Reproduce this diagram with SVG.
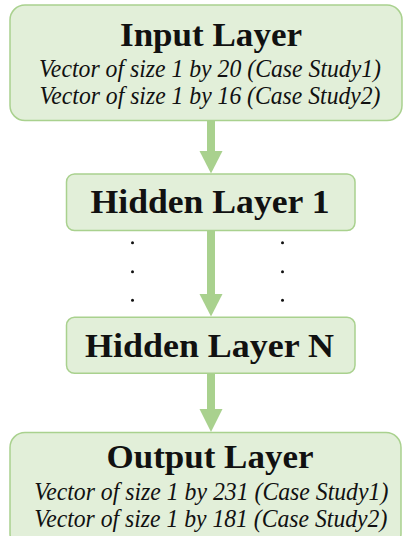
<svg xmlns="http://www.w3.org/2000/svg" width="406" height="536" viewBox="0 0 406 536">
  <style>
    .box { fill: #e2efd9; stroke: #a9d18e; stroke-width: 1.5; }
    .title { font-family: "Liberation Serif", "Times New Roman", serif; font-weight: bold; font-size: 34px; fill: #111; text-anchor: middle; }
    .sub { font-family: "Liberation Serif", "Times New Roman", serif; font-style: italic; font-size: 24.5px; fill: #111; text-anchor: middle; }
    .shaft { stroke: #a9d18e; stroke-width: 8; fill: none; }
    .head { fill: #a9d18e; }
    .dot { fill: #111; }
  </style>
  <rect width="406" height="536" fill="#ffffff"/>

  <g id="connectors">
    <line class="shaft" x1="211" y1="121" x2="211" y2="152"/>
    <polygon class="head" points="199.5,151 222.5,151 211,173.5"/>
    <line class="shaft" x1="211" y1="231" x2="211" y2="295"/>
    <polygon class="head" points="199.5,294 222.5,294 211,316.5"/>
    <line class="shaft" x1="211" y1="373.5" x2="211" y2="410"/>
    <polygon class="head" points="199.5,409 222.5,409 211,432"/>
  </g>

  <g id="input-layer">
    <rect class="box" x="10" y="5" width="392" height="115.5" rx="15"/>
    <text class="title" x="211" y="46" textLength="182" lengthAdjust="spacingAndGlyphs">Input Layer</text>
    <text class="sub" x="210" y="77" textLength="342" lengthAdjust="spacingAndGlyphs">Vector of size 1 by 20 (Case Study1)</text>
    <text class="sub" x="210" y="104" textLength="341" lengthAdjust="spacingAndGlyphs">Vector of size 1 by 16 (Case Study2)</text>
  </g>

  <g id="hidden-layer-1">
    <rect class="box" x="66.5" y="174" width="288.5" height="56.5" rx="8"/>
    <text class="title" x="210" y="213" textLength="239" lengthAdjust="spacingAndGlyphs">Hidden Layer 1</text>
  </g>

  <g id="ellipsis">
    <circle class="dot" cx="132.5" cy="242.7" r="1.5"/>
    <circle class="dot" cx="132.5" cy="271.7" r="1.5"/>
    <circle class="dot" cx="132.5" cy="300.3" r="1.5"/>
    <circle class="dot" cx="282.5" cy="242.7" r="1.5"/>
    <circle class="dot" cx="282.5" cy="271.7" r="1.5"/>
    <circle class="dot" cx="282.5" cy="300.3" r="1.5"/>
  </g>

  <g id="hidden-layer-n">
    <rect class="box" x="66.5" y="317.3" width="288.5" height="56" rx="8"/>
    <text class="title" x="209.5" y="356.5" textLength="249" lengthAdjust="spacingAndGlyphs">Hidden Layer N</text>
  </g>

  <g id="output-layer">
    <rect class="box" x="10" y="432.5" width="391" height="116" rx="15"/>
    <text class="title" x="210" y="468" textLength="207" lengthAdjust="spacingAndGlyphs">Output Layer</text>
    <text class="sub" x="211.3" y="500" textLength="354" lengthAdjust="spacingAndGlyphs">Vector of size 1 by 231 (Case Study1)</text>
    <text class="sub" x="210.8" y="527" textLength="353" lengthAdjust="spacingAndGlyphs">Vector of size 1 by 181 (Case Study2)</text>
  </g>
</svg>
